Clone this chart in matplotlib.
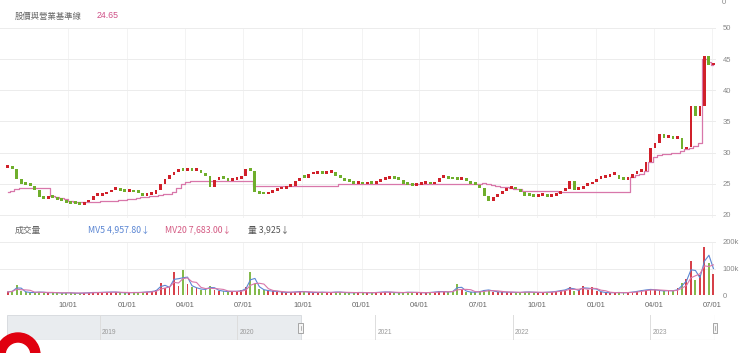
import numpy as np
import pandas as pd
import matplotlib
matplotlib.use('Agg')
import matplotlib.pyplot as plt
import matplotlib.dates as mdates
from matplotlib.patches import Rectangle, Annulus

plt.rcParams['font.family'] = ['Liberation Sans', 'Noto Sans CJK TC', 'DejaVu Sans']
CJK = ['Noto Sans CJK TC', 'DejaVu Sans']

# weekly samples, 2020-06-29 .. 2023-07-03
weeks = pd.date_range('2020-06-29', periods=158, freq='7D')

close = np.array([
    27.6, 27.4, 25.8, 25.0, 24.8, 24.6, 24.0, 22.8, 22.6, 22.8,
    22.7, 22.4, 22.2, 21.9, 21.8, 21.7, 21.6, 22.0, 22.4, 23.0,
    23.0, 23.3, 23.6, 24.0, 24.3, 23.9, 23.7, 23.8, 23.6, 23.5,
    23.1, 23.2, 23.4, 24.0, 24.9, 25.7, 26.4, 26.9, 27.1, 27.0,
    27.3, 27.1, 27.2, 26.7, 26.3, 24.5, 25.6, 25.9, 25.8, 25.4,
    25.6, 25.7, 26.2, 27.3, 27.0, 23.6, 23.4, 23.3, 23.5, 23.9,
    24.1, 24.2, 24.5, 24.6, 25.4, 26.0, 25.9, 26.5, 26.6, 26.7,
    26.6, 26.7, 26.9, 26.3, 25.9, 25.5, 25.3, 25.0, 25.0, 24.9,
    25.1, 25.0, 25.3, 25.6, 25.8, 25.9, 25.8, 25.6, 24.9, 24.8,
    24.7, 24.8, 25.0, 25.1, 24.9, 25.3, 26.0, 26.1, 25.8, 25.7,
    25.6, 25.8, 25.5, 25.0, 24.8, 24.3, 23.0, 22.3, 22.9, 23.4,
    23.8, 24.2, 24.3, 24.1, 23.6, 23.1, 23.0, 22.9, 23.0, 23.1,
    22.9, 23.0, 23.3, 23.8, 24.1, 25.4, 24.0, 24.1, 24.6, 24.9,
    25.3, 25.8, 26.0, 26.1, 26.4, 26.4, 25.7, 25.6, 26.0, 26.6,
    26.9, 27.1, 28.5, 30.8, 31.5, 33.0, 32.4, 32.6, 32.2, 32.4,
    30.5, 30.9, 37.5, 35.8, 37.5, 45.5, 44.0, 44.3,
])

baseline = np.array([
    23.7, 23.9, 24.2, 24.3, 24.3, 24.3, 24.3, 24.3, 24.3, 24.3,
    23.0, 22.9, 22.7, 22.5, 22.3, 22.1, 22.0, 22.0, 22.0, 22.1,
    22.1, 22.2, 22.2, 22.3, 22.3, 22.4, 22.4, 22.5, 22.6, 22.7,
    22.8, 22.9, 23.0, 23.1, 23.2, 23.3, 23.4, 23.6, 24.3, 25.0,
    25.3, 25.5, 25.5, 25.5, 25.5, 25.5, 25.5, 25.5, 25.5, 25.5,
    25.5, 25.5, 25.5, 25.5, 25.5, 24.7, 24.7, 24.7, 24.7, 24.7,
    24.7, 24.7, 24.7, 24.7, 24.7, 24.7, 24.7, 24.7, 24.7, 24.7,
    24.7, 24.7, 24.7, 24.7, 24.9, 24.9, 24.9, 24.9, 24.9, 24.9,
    24.9, 24.9, 24.9, 24.9, 24.9, 24.9, 24.9, 24.9, 24.9, 24.9,
    24.9, 24.9, 24.9, 24.9, 24.9, 24.9, 24.9, 24.9, 24.9, 24.9,
    24.9, 24.9, 24.9, 24.9, 24.9, 24.9, 25.1, 25.0, 24.8, 24.6,
    24.5, 24.4, 24.3, 24.2, 24.1, 23.8, 23.8, 23.8, 23.8, 23.8,
    23.8, 23.8, 23.8, 23.7, 23.7, 23.7, 23.7, 23.7, 23.7, 23.7,
    23.7, 23.7, 23.7, 23.7, 23.7, 23.7, 23.7, 23.7, 23.7, 26.1,
    26.4, 26.5, 27.0, 28.5, 29.3, 29.6, 29.7, 29.8, 29.9, 30.0,
    30.2, 30.6, 30.8, 31.0, 31.5, 45.0, 44.5, 44.0,
])

# volume in thousands of shares
volume = np.array([
    12, 15, 38, 14, 10, 9, 10, 12, 9, 8,
    10, 8, 7, 9, 8, 6, 7, 8, 9, 10,
    9, 11, 10, 12, 10, 9, 8, 9, 10, 9,
    11, 12, 14, 18, 45, 28, 30, 88, 35, 95,
    40, 30, 25, 20, 22, 35, 20, 15, 14, 12,
    15, 13, 18, 30, 85, 40, 22, 18, 15, 14,
    13, 10, 9, 11, 12, 14, 12, 10, 9, 10,
    11, 9, 10, 12, 10, 9, 8, 9, 10, 9,
    8, 9, 10, 11, 12, 10, 9, 8, 10, 11,
    9, 10, 8, 9, 10, 12, 14, 12, 11, 15,
    40, 18, 12, 10, 11, 14, 20, 18, 13, 11,
    12, 10, 11, 9, 10, 12, 11, 10, 9, 10,
    11, 12, 15, 18, 20, 32, 15, 20, 34, 18,
    30, 15, 10, 9, 8, 10, 9, 8, 10, 12,
    15, 18, 20, 22, 18, 16, 15, 18, 14, 25,
    45, 60, 130, 55, 75, 180, 120, 80,
])

mv5 = pd.Series(volume).rolling(2, min_periods=1).mean()
mv20 = pd.Series(volume).rolling(4, min_periods=1).mean()

quarter_ticks = pd.to_datetime(['2020-10-01', '2021-01-01', '2021-04-01', '2021-07-01',
                                '2021-10-01', '2022-01-01', '2022-04-01', '2022-07-01',
                                '2022-10-01', '2023-01-01', '2023-04-01', '2023-07-01'])
price_ticks = [20, 25, 30, 35, 40, 45, 50]
vol_ticks = [0, 100, 200]
vol_tick_labels = ['0', '100k', '200k']
years = ['2019', '2020', '2021', '2022', '2023']

RED = '#d0202a'
GREEN = '#6fae2c'
PINK = '#d877aa'
BLUE = '#5b86d3'
GRID = '#ececec'
TXT = '#888888'

W, H = 740, 353


def rect(x0, y0, x1, y1):
    return [x0 / W, 1 - y1 / H, (x1 - x0) / W, (y1 - y0) / H]


fig = plt.figure(figsize=(7.4, 3.53), dpi=100)
ax = fig.add_axes(rect(0, 28, 716, 218))
axv = fig.add_axes(rect(0, 242, 716, 295))
axn = fig.add_axes(rect(7, 315, 715, 340))

x0 = pd.Timestamp('2020-06-17')
x1 = pd.Timestamp('2023-07-07')

# price panel
opens = np.r_[close[0], close[:-1]]
colors = np.where(close >= opens, RED, GREEN)
body = np.maximum(np.abs(close - opens), 0.45)
ax.plot(weeks, baseline, color=PINK, lw=0.9, drawstyle='steps-mid', zorder=2)
ax.bar(weeks, body, bottom=np.minimum(close, opens), width=4.5, color=colors, zorder=3)
ax.set_xlim(x0, x1)
ax.set_ylim(19.5, 50)
ax.set_yticks(price_ticks)
ax.yaxis.tick_right()
ax.set_xticks(quarter_ticks)
ax.tick_params(axis='y', length=0, pad=5, labelsize=5.5, labelcolor=TXT)
ax.tick_params(axis='x', length=0, labelbottom=False)
ax.grid(axis='y', color=GRID, lw=0.7)
ax.grid(axis='x', color='#f3f3f3', lw=0.7)
for s in ax.spines.values():
    s.set_visible(False)

# volume panel
axv.bar(weeks, volume, width=3, color=colors, alpha=0.85, zorder=2)
axv.plot(weeks, mv5, color=BLUE, lw=0.8, zorder=3)
axv.plot(weeks, mv20, color=PINK, lw=0.8, zorder=3)
axv.set_xlim(x0, x1)
axv.set_ylim(0, 200)
axv.set_yticks(vol_ticks)
axv.set_yticklabels(vol_tick_labels)
axv.yaxis.tick_right()
axv.set_xticks(quarter_ticks)
axv.xaxis.set_major_formatter(mdates.DateFormatter('%m/%d'))
axv.tick_params(axis='y', length=0, pad=5, labelsize=5.5, labelcolor=TXT)
axv.tick_params(axis='x', length=0, pad=5, labelsize=5.5, labelcolor='#666666')
axv.grid(axis='y', color=GRID, lw=0.7)
axv.grid(axis='x', color='#f3f3f3', lw=0.7)
for s in axv.spines.values():
    s.set_visible(False)

# navigator
n0 = pd.Timestamp('2018-04-30')
n1 = pd.Timestamp('2023-06-22')
axn.set_xlim(n0, n1)
axn.set_ylim(0, 1)
axn.axis('off')
axn.add_patch(Rectangle((mdates.date2num(n0), 0), mdates.date2num(x0) - mdates.date2num(n0), 1,
                        facecolor='#e9ecef', edgecolor='#d5d8dc', lw=0.6, zorder=1))
axn.plot([n0, n1], [0, 0], color='#cccccc', lw=0.8, zorder=2)
axn.plot([n1, n1], [0, 1], color='#cccccc', lw=0.8, zorder=2)
for yr in years:
    d = pd.Timestamp(yr + '-01-01')
    axn.plot([d, d], [0, 1], color='#dddddd', lw=0.7, zorder=2)
    axn.text(d + pd.Timedelta(days=6), 0.28, yr, fontsize=4.8, color='#999999', va='center', zorder=3)
for d in [x0, n1]:
    c = mdates.date2num(d)
    axn.add_patch(Rectangle((c - 6, 0.28), 12, 0.42, facecolor='#f5f5f5', edgecolor='#999999',
                            lw=0.6, zorder=4, clip_on=False))
    axn.plot([c, c], [0.4, 0.58], color='#999999', lw=0.5, zorder=5, clip_on=False)

# header texts
fig.text(15 / W, 1 - 16 / H, '股價與營業基準線', fontsize=6, color='#666666', va='center', family=CJK)
fig.text(97 / W, 1 - 16 / H, '24.65', fontsize=6.3, color='#cf4f86', va='center')
fig.text(15 / W, 1 - 230 / H, '成交量', fontsize=6.3, color='#666666', va='center', family=CJK)
fig.text(88 / W, 1 - 230 / H, 'MV5 4,957.80↓', fontsize=6.3, color=BLUE, va='center', family=CJK)
fig.text(165 / W, 1 - 230 / H, 'MV20 7,683.00↓', fontsize=6.3, color='#d45a83', va='center', family=CJK)
fig.text(248 / W, 1 - 230 / H, '量 3,925↓', fontsize=6.3, color='#555555', va='center', family=CJK)
fig.text(722 / W, 1 - 3 / H, '0', fontsize=5.5, color=TXT, va='center')

# red ring at bottom left
ov = fig.add_axes([0, 0, 1, 1], zorder=10)
ov.set_xlim(0, W)
ov.set_ylim(H, 0)
ov.axis('off')
ov.add_patch(Annulus((18, 355), 22, 9, color='#e0000f'))

fig.savefig('out.png', dpi=100)
